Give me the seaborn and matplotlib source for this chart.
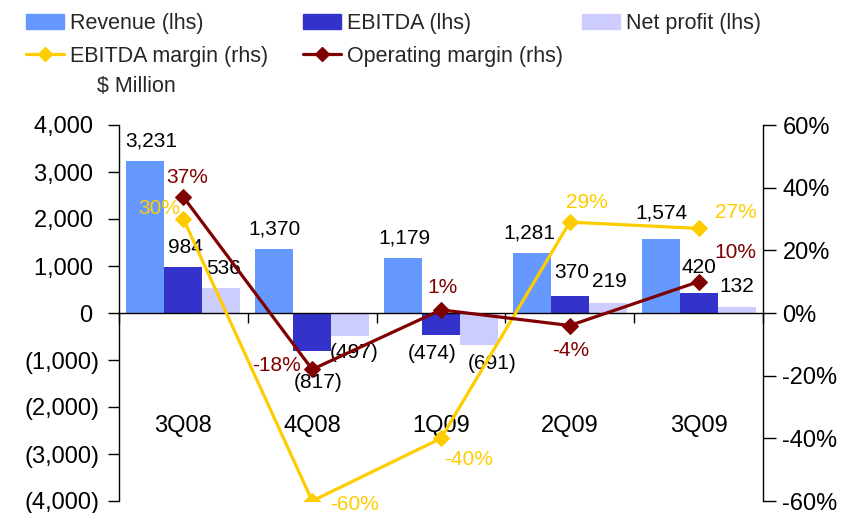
import numpy as np
import pandas as pd
import matplotlib
matplotlib.use("Agg")
import matplotlib.pyplot as plt
from matplotlib.patches import Patch
from matplotlib.lines import Line2D
from matplotlib.ticker import FuncFormatter
import seaborn as sns

# Data
quarters = ["3Q08", "4Q08", "1Q09", "2Q09", "3Q09"]
revenue = [3231, 1370, 1179, 1281, 1574]
ebitda = [984, -817, -474, 370, 420]
net_profit = [536, -497, -691, 219, 132]
ebitda_margin = [30, -60, -40, 29, 27]
operating_margin = [37, -18, 1, -4, 10]

series_names = ["Revenue (lhs)", "EBITDA (lhs)", "Net profit (lhs)"]
bar_colors = ["#6699FF", "#3333CC", "#CCCCFF"]
ebitda_margin_color = "#FFCC00"
op_margin_color = "#800000"

# Label offsets (pixels) from the end of each bar / marker
bar_label_offsets = {
    "Revenue (lhs)": [(6, 20), (0, 20), (1, 20), (-2, 20), (1, 26)],
    "EBITDA (lhs)": [(2, 19), (6, -31), (-9, -18), (2, 23), (0, 26)],
    "Net profit (lhs)": [(2, 19), (4, -16), (13, -18), (2, 21), (0, 20)],
}
op_label_offsets = [(4, 20), (-36, 4), (1, 22), (1, -25), (37, 29)]
em_label_offsets = [(-24, 11), (42, -4), (28, -21), (17, 20), (37, 16)]

df = pd.DataFrame({
    "quarter": quarters * 3,
    "series": np.repeat(series_names, len(quarters)),
    "value": revenue + ebitda + net_profit,
})

sns.set_theme(style="white")
plt.rcParams["font.family"] = ["Liberation Sans", "DejaVu Sans"]

fig = plt.figure(figsize=(8.43, 5.13), dpi=100)
ax = fig.add_axes([119 / 843, 12 / 513, 644 / 843, 376 / 513])

sns.barplot(data=df, x="quarter", y="value", hue="series", hue_order=series_names,
            palette=bar_colors, width=0.885, gap=0, saturation=1, ax=ax,
            legend=False, errorbar=None, linewidth=0)
ax.set_ylim(-4000, 4000)
ax.set_xlim(-0.5, 4.5)
ax.set_xlabel("")
ax.set_ylabel("")

# value labels on bars
for container, name in zip(ax.containers, series_names):
    for bar, off in zip(container.patches, bar_label_offsets[name]):
        h = bar.get_height()
        y0 = bar.get_y()
        y = max(y0, y0 + h) if h >= 0 else min(y0, y0 + h)
        val = int(round(abs(h)))
        txt = f"{val:,}" if h >= 0 else f"({val:,})"
        ax.annotate(txt, (bar.get_x() + bar.get_width() / 2, y), xytext=off,
                    textcoords="offset pixels", ha="center", va="center",
                    fontsize=15, color="black")

# axis styling
fmt_left = FuncFormatter(lambda v, p: f"{v:,.0f} " if v >= 0 else f"({abs(v):,.0f})")
ax.yaxis.set_major_formatter(fmt_left)
ax.set_yticks(np.arange(-4000, 4001, 1000))
ax.tick_params(axis="y", direction="out", length=8, width=1, pad=6, labelsize=17, colors="black")
ax.spines["top"].set_visible(False)
ax.spines["right"].set_visible(False)
ax.spines["bottom"].set_position(("data", 0))
for s in ["left", "bottom"]:
    ax.spines[s].set_color("black")
    ax.spines[s].set_linewidth(1)
ax.set_xticks(np.arange(-0.5, 5, 1.0))
ax.set_xticklabels([])
ax.tick_params(axis="x", direction="out", length=7, width=1, colors="black", bottom=True)
for i, q in enumerate(quarters):
    ax.text(i, -2400, q, ha="center", va="center", fontsize=17, color="black")

# margins on secondary axis
ax2 = ax.twinx()
xpos = np.arange(len(quarters))
sns.lineplot(x=xpos, y=ebitda_margin, ax=ax2, color=ebitda_margin_color, lw=2.3,
             marker="D", markersize=8, markeredgecolor=ebitda_margin_color)
sns.lineplot(x=xpos, y=operating_margin, ax=ax2, color=op_margin_color, lw=2.3,
             marker="D", markersize=8, markeredgecolor=op_margin_color)
ax2.set_ylim(-60, 60)
ax2.set_xlim(-0.5, 4.5)
ax2.set_yticks(np.arange(-60, 61, 20))
ax2.yaxis.set_major_formatter(FuncFormatter(lambda v, p: f"{v:.0f}%"))
ax2.tick_params(axis="y", direction="out", length=9, width=1, pad=5, labelsize=17, colors="black")
for s in ["top", "left", "bottom"]:
    ax2.spines[s].set_visible(False)
ax2.spines["right"].set_color("black")
ax2.spines["right"].set_linewidth(1)

for i, (v, off) in enumerate(zip(operating_margin, op_label_offsets)):
    ax2.annotate(f"{v}%", (i, v), xytext=off, textcoords="offset pixels",
                 ha="center", va="center", fontsize=15, color=op_margin_color)
for i, (v, off) in enumerate(zip(ebitda_margin, em_label_offsets)):
    ax2.annotate(f"{v}%", (i, v), xytext=off, textcoords="offset pixels",
                 ha="center", va="center", fontsize=15, color=ebitda_margin_color)

# legend laid out in three columns like the original
def line_handle(c):
    return Line2D([0], [0], color=c, lw=2.3, marker="D", markersize=7, markeredgecolor=c)

columns = [
    ([Patch(color=bar_colors[0]), line_handle(ebitda_margin_color)],
     ["Revenue (lhs)", "EBITDA margin (rhs)"], 26),
    ([Patch(color=bar_colors[1]), line_handle(op_margin_color)],
     ["EBITDA (lhs)", "Operating margin (rhs)"], 303),
    ([Patch(color=bar_colors[2])], ["Net profit (lhs)"], 582),
]
for handles, labels, x0 in columns:
    fig.legend(handles, labels, loc="upper left", bbox_to_anchor=(x0 / 843, 1 - 13 / 513),
               frameon=False, fontsize=15.5, handlelength=1.75, handletextpad=0.3,
               borderpad=0, borderaxespad=0, labelspacing=0.55, handleheight=0.7)

fig.text(97 / 843, 1 - 87 / 513, "$ Million", ha="left", va="center", fontsize=15.5)

fig.savefig("out.png", dpi=100)
